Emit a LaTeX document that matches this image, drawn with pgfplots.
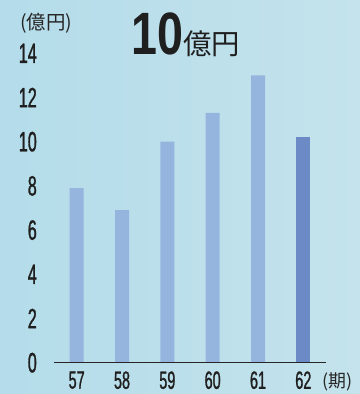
\documentclass[border=0pt]{standalone}
\usepackage{fontspec}
\usepackage{pgfplots}
\pgfplotsset{compat=1.18}
\setmainfont{Liberation Sans}
\newfontfamily\condfont[FakeStretch=0.58,FakeBold=1]{Liberation Sans}
\newfontfamily\titlefont[FakeStretch=0.78]{Liberation Sans Bold}
\newfontfamily\cjk{Noto Sans CJK JP}
\definecolor{bgL}{RGB}{180,220,234}
\definecolor{bgR}{RGB}{196,227,236}
\definecolor{barL}{RGB}{150,181,222}
\definecolor{barD}{RGB}{108,138,198}
\begin{document}
\begin{tikzpicture}
\useasboundingbox (0bp,0bp) rectangle (360bp,394bp);
\shade[left color=bgL, right color=bgR] (0bp,0bp) rectangle (360bp,394bp);
\begin{axis}[
  at={(54bp,31.3bp)}, anchor=south west, scale only axis,
  width=272bp, height=309.4bp,
  xmin=56.5, xmax=62.5, ymin=0, ymax=14,
  clip=false,
  axis line style={draw=none},
  xtick={57,58,59,60,61,62},
  ytick={0,2,4,6,8,10,12,14},
  major tick length=0pt,
  /pgf/number format/assume math mode=true,
  tick label style={text=black!88},
  yticklabel style={font=\condfont\fontsize{28}{28}\selectfont, anchor=east, inner sep=0pt, xshift=-17bp},
  xticklabel style={font=\condfont\fontsize{25}{25}\selectfont, anchor=north, inner sep=0pt, yshift=-8.5bp},
]
\addplot[ybar, bar width=14bp, bar shift=0pt, fill=barL, draw=none]
  coordinates {(57,7.9) (58,6.9) (59,10) (60,11.3) (61,13)};
\addplot[ybar, bar width=14bp, bar shift=0pt, fill=barD, draw=none]
  coordinates {(62,10.2)};
\draw[line width=1.1bp, black!85] (axis cs:56.5,0) -- (axis cs:62.5,0);
\end{axis}
\node[anchor=base west, inner sep=0pt, text=black!88] at (131bp,339bp)
  {\titlefont\fontsize{60}{60}\selectfont 10\cjk\fontsize{28.5}{28.5}\selectfont 億円};
\node[anchor=base west, inner sep=0pt, text=black!85] at (20bp,364bp)
  {\cjk\fontsize{19.5}{19.5}\selectfont (億円)};
\node[anchor=base west, inner sep=0pt, text=black!85] at (322bp,7bp)
  {\cjk\fontsize{18}{18}\selectfont (期)};
\end{tikzpicture}
\end{document}
